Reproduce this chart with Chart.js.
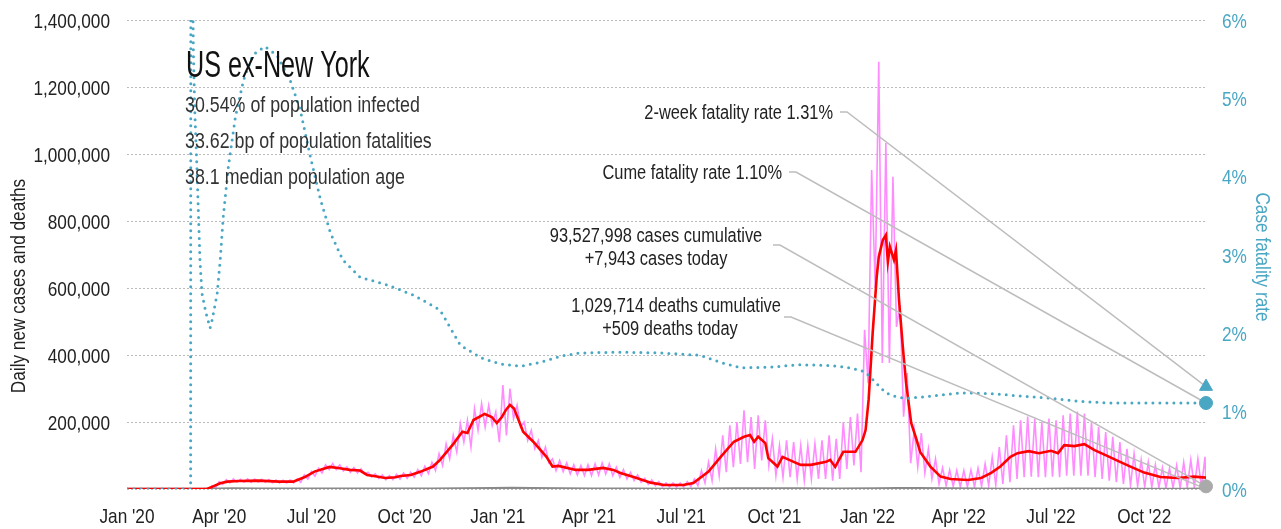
<!DOCTYPE html>
<html>
<head>
<meta charset="utf-8">
<script src="https://cdn.jsdelivr.net/npm/chart.js@4.4.1/dist/chart.umd.min.js"></script>
<style>
  html, body { margin: 0; padding: 0; background: #fff; }
  #wrap { width: 1281px; height: 529px; }
</style>
</head>
<body>
<div id="wrap"><canvas id="chart" width="1281" height="529"></canvas></div>
<script>
/* ===== DATA (x = days since 1 Jan 2020) ===== */
const tickDays = [0, 91, 182, 274, 366, 456, 547, 639, 731, 821, 912, 1004];
const tickLabels = ["Jan '20", "Apr '20", "Jul '20", "Oct '20", "Jan '21", "Apr '21",
  "Jul '21", "Oct '21", "Jan '22", "Apr '22", "Jul '22", "Oct '22"];
const lastDay = 1065;

// daily new cases (thousands): one weekly high and one weekly low, from day 70
const dailyStart = 70;
const dailyHigh = [0, 1, 10, 22, 28, 30, 29, 30, 30, 29, 28, 27, 26, 27, 30, 42, 52, 62, 72, 76,
  72, 66, 64, 60, 50, 45, 42, 40, 44, 48, 50, 58, 68, 80, 105, 135, 160, 195, 205, 240,
  255, 250, 230, 310, 300, 250, 200, 175, 145, 125, 90, 85, 78, 72, 70, 72, 75, 78, 75, 65,
  58, 50, 42, 32, 27, 22, 18, 18, 18, 22, 30, 55, 80, 120, 160, 190, 200, 235, 215, 220,
  205, 150, 130, 145, 140, 130, 130, 135, 145, 160, 150, 200, 215, 225, 475, 952, 1275, 1033, 932, 549,
  346, 176, 167, 120, 90, 63, 57, 55, 55, 57, 62, 75, 95, 125, 160, 190, 205, 216, 210, 200,
  210, 205, 220, 225, 231, 225, 200, 185, 170, 156, 140, 120, 105, 87, 80, 72, 63, 62, 70, 80,
  87, 90, 96];
const dailyLow = [0, 0, 4, 14, 18, 20, 20, 20, 21, 20, 19, 18, 18, 18, 20, 30, 38, 48, 58, 58,
  54, 50, 48, 44, 36, 32, 28, 28, 30, 32, 35, 40, 46, 55, 70, 90, 110, 140, 125, 175,
  185, 190, 140, 160, 210, 185, 145, 120, 95, 78, 55, 52, 45, 42, 40, 40, 42, 45, 40, 35,
  30, 25, 20, 14, 10, 7, 6, 6, 6, 7, 10, 18, 25, 40, 50, 65, 75, 80, 60, 85,
  70, 40, 35, 35, 30, 25, 30, 30, 30, 25, 30, 60, 70, 50, 316, 600, 376, 376, 484, 216,
  77, 66, 48, 30, 15, 10, 8, 6, 6, 6, 8, 10, 12, 15, 20, 30, 35, 37, 35, 35,
  37, 35, 40, 40, 40, 40, 35, 30, 25, 20, 15, 10, 8, 6, 5, 4, 3, 3, 3, 5,
  5, 5];

// 7-day average of new cases (thousands)
const avgDays = [0, 79, 85, 92, 99, 110, 130, 150, 164, 175, 185, 200, 210, 220, 230, 237, 245, 255, 265, 270,
  280, 290, 302, 309, 322, 331, 336, 342, 353, 360, 365, 370, 374, 378, 382, 391, 401, 414, 420, 426,
  443, 455, 470, 480, 487, 500, 517, 530, 549, 559, 574, 586, 599, 609, 615, 619, 623, 630, 633, 642,
  647, 658, 665, 675, 690, 694, 699, 707, 719, 726, 729, 732, 736, 740, 742, 746, 749, 751, 753, 757,
  759, 762, 766, 769, 774, 779, 783, 793, 803, 813, 830, 843, 853, 862, 872, 879, 890, 900, 912, 919,
  925, 935, 945, 955, 968, 978, 991, 1004, 1020, 1037, 1053, 1065];
const avgCases = [0, 0, 8, 17, 22, 24, 25, 22, 22, 35, 52, 66, 62, 57, 55, 42, 38, 33, 35, 39,
  42, 52, 67, 87, 134, 171, 167, 206, 224, 215, 197, 215, 236, 251, 240, 171, 141, 96, 67, 69,
  57, 57, 63, 57, 48, 36, 19, 12, 12, 18, 52, 96, 141, 156, 161, 141, 156, 137, 92, 67,
  96, 81, 72, 72, 81, 87, 66, 111, 111, 146, 176, 266, 466, 634, 693, 743, 758, 678, 723, 684,
  713, 564, 415, 316, 197, 150, 110, 67, 37, 30, 27, 33, 48, 67, 96, 107, 113, 107, 114, 107,
  131, 128, 134, 116, 98, 84, 66, 49, 36, 33, 37, 34];

// daily deaths
const deathDays = [0, 60, 75, 90, 105, 130, 160, 200, 220, 260, 300, 330, 360, 380, 400, 430, 460, 500,
  540, 570, 600, 630, 660, 700, 740, 760, 780, 810, 840, 870, 900, 930, 960, 1000, 1040, 1065];
const deathVals = [0, 0, 200, 900, 1300, 1100, 600, 800, 900, 700, 800, 1500, 2200, 2800, 2600, 1800, 1000, 600,
  250, 400, 1200, 1700, 1300, 1000, 1300, 2200, 2300, 1300, 500, 300, 300, 400, 400, 350, 300, 509];

// case fatality rate (%)
const cfrDays = [0, 62.8, 63.2, 64.5, 65.5, 67, 69, 72, 74, 78, 82, 84, 89, 92, 95, 100, 107, 115, 124, 136,
  148, 161, 171, 181, 191, 201, 213, 230, 257, 283, 309, 329, 349, 368, 388, 408, 428, 447, 487, 527,
  566, 586, 606, 635, 665, 694, 709, 724, 730, 739, 749, 759, 769, 788, 823, 853, 882, 912, 941, 971, 1065];
const cfrVals = [0, 0, 14, 7, 5.6, 4.8, 4.12, 2.93, 2.5, 2.25, 2.06, 2.16, 2.5, 2.93, 3.48, 4.12, 4.76, 5.23, 5.55, 5.66,
  5.55, 5.23, 4.85, 4.25, 3.7, 3.27, 2.93, 2.71, 2.61, 2.48, 2.29, 1.84, 1.68, 1.6, 1.57, 1.62, 1.7, 1.74, 1.75, 1.74,
  1.71, 1.62, 1.55, 1.56, 1.59, 1.58, 1.56, 1.52, 1.48, 1.36, 1.23, 1.18, 1.16, 1.18, 1.23, 1.22, 1.19, 1.16, 1.12, 1.1, 1.1];

const cfrTwoWeek = 1.31;
const cfrCume = 1.10;
const casesToday = 7943;
const deathsToday = 509;
const casesCumulative = 93527998;
const deathsCumulative = 1029714;
const statLines = ["30.54% of population infected", "33.62 bp of population fatalities", "38.1 median population age"];

/* ===== STYLE ===== */
const FONT = "'Liberation Sans', Arial, sans-serif";
const NARROW = 0.82; // horizontal squeeze to mimic a narrow face
const TEAL = "#4aa7c4";
const fmt = (n) => n.toLocaleString("en-US");

/* ===== BUILD SERIES ===== */
const dailyPoints = [{ x: 0, y: 0 }];
dailyHigh.forEach((v, i) => {
  dailyPoints.push({ x: dailyStart + 7 * i, y: v * 1000 });
  const lowDay = dailyStart + 7 * i + 3.5;
  if (i < dailyLow.length && lowDay < lastDay) dailyPoints.push({ x: lowDay, y: dailyLow[i] * 1000 });
});
dailyPoints.push({ x: lastDay, y: casesToday });

const avgPoints = avgDays.map((d, i) => ({ x: d, y: avgCases[i] * 1000 }));
const deathPoints = deathDays.map((d, i) => ({ x: d, y: deathVals[i] }));
const cfrPoints = cfrDays.map((d, i) => ({ x: d, y: cfrVals[i] }));

/* ===== TEXT HELPERS ===== */
function drawText(ctx, str, x, y, size, color, align, sx = NARROW, rot = 0) {
  ctx.save();
  ctx.font = size + "px " + FONT;
  ctx.fillStyle = color;
  ctx.textAlign = align;
  ctx.textBaseline = "alphabetic";
  ctx.translate(x, y);
  if (rot) ctx.rotate(rot);
  ctx.scale(sx, 1);
  ctx.fillText(str, 0, 0);
  ctx.restore();
}

function leader(ctx, x0, y0, x1, y1) {
  ctx.beginPath();
  ctx.moveTo(x0, y0);
  ctx.lineTo(x0 + 7, y0);
  ctx.lineTo(x1, y1);
  ctx.stroke();
}

const overlay = {
  id: "overlay",
  afterDatasetDraw(chart, args) {
    if (args.index !== 3) return; // after the CFR line, under the end markers
    const { ctx, scales } = chart;
    const ex = scales.x.getPixelForValue(lastDay);
    ctx.save();
    ctx.strokeStyle = "#bdbdbd";
    ctx.lineWidth = 1.5;
    leader(ctx, 840, 112, ex, scales.y1.getPixelForValue(cfrTwoWeek));
    leader(ctx, 789, 172, ex, scales.y1.getPixelForValue(cfrCume));
    leader(ctx, 773, 245, ex, scales.y.getPixelForValue(casesToday));
    leader(ctx, 784, 317, ex, scales.y.getPixelForValue(deathsToday));
    ctx.restore();
  },
  afterDraw(chart) {
    const { ctx, scales } = chart;

    // tick labels, placed by the chart's own scales
    const ys = scales.y, y1 = scales.y1, xs = scales.x;
    ys.ticks.forEach((t, i) => {
      if (t.value === 0) return;
      drawText(ctx, fmt(t.value), ys.right - 17, ys.getPixelForTick(i) + 8, 21, "#222", "right");
    });
    y1.ticks.forEach((t, i) => {
      drawText(ctx, t.value + "%", y1.left + 16, y1.getPixelForTick(i) + 8, 21, TEAL, "left");
    });
    xs.ticks.forEach((t, i) => {
      drawText(ctx, tickLabels[i], xs.getPixelForTick(i), xs.top + 34, 21, "#222", "center");
    });

    // axis titles
    drawText(ctx, "Daily new cases and deaths", 25, 286, 21, "#222", "center", NARROW, -Math.PI / 2);
    drawText(ctx, "Case fatality rate", 1256, 257, 21, TEAL, "center", NARROW, Math.PI / 2);

    // headline block
    drawText(ctx, "US ex-New York", 186, 77, 37, "#111", "left", 0.68);
    statLines.forEach((s, i) => drawText(ctx, s, 185, 112 + 36 * i, 22, "#333", "left", 0.81));

    // end-of-series annotations
    drawText(ctx, "2-week fatality rate " + cfrTwoWeek.toFixed(2) + "%", 833, 119, 20, "#222", "right");
    drawText(ctx, "Cume fatality rate " + cfrCume.toFixed(2) + "%", 782, 179, 20, "#222", "right");
    drawText(ctx, fmt(casesCumulative) + " cases cumulative", 656, 242, 20, "#222", "center");
    drawText(ctx, "+" + fmt(casesToday) + " cases today", 656, 265, 20, "#222", "center");
    drawText(ctx, fmt(deathsCumulative) + " deaths cumulative", 676, 312, 20, "#222", "center");
    drawText(ctx, "+" + fmt(deathsToday) + " deaths today", 670, 335, 20, "#222", "center");
  }
};

/* ===== CHART ===== */
new Chart(document.getElementById("chart"), {
  type: "line",
  data: {
    datasets: [
      {
        label: "Daily new cases",
        data: dailyPoints,
        borderColor: "#ff8cff",
        borderWidth: 1.6,
        pointRadius: 0,
        yAxisID: "y",
        order: 7,
      },
      {
        label: "Daily deaths",
        data: deathPoints,
        borderColor: "#8a8a8a",
        borderWidth: 2.5,
        pointRadius: 0,
        yAxisID: "y",
        order: 6,
      },
      {
        label: "7-day average",
        data: avgPoints,
        borderColor: "#ff0000",
        borderWidth: 2.6,
        pointRadius: 0,
        yAxisID: "y",
        order: 5,
      },
      {
        label: "Case fatality rate",
        data: cfrPoints,
        borderColor: TEAL,
        borderWidth: 3,
        borderDash: [0, 7],
        borderCapStyle: "round",
        pointRadius: 0,
        yAxisID: "y1",
        order: 4,
      },
      {
        label: "2-week fatality rate",
        data: [{ x: lastDay, y: cfrTwoWeek }],
        showLine: false,
        clip: false,
        pointStyle: "triangle",
        pointRadius: 7.5,
        backgroundColor: TEAL,
        borderColor: TEAL,
        yAxisID: "y1",
        order: 3,
      },
      {
        label: "Cume fatality rate",
        data: [{ x: lastDay, y: cfrCume }],
        showLine: false,
        clip: false,
        pointRadius: 6.5,
        backgroundColor: TEAL,
        borderColor: TEAL,
        yAxisID: "y1",
        order: 2,
      },
      {
        label: "Cases today",
        data: [{ x: lastDay, y: casesToday }],
        showLine: false,
        clip: false,
        pointRadius: 6.5,
        backgroundColor: "#aaaaaa",
        borderColor: "#aaaaaa",
        yAxisID: "y",
        order: 1,
      },
    ],
  },
  options: {
    responsive: false,
    animation: false,
    devicePixelRatio: 1,
    layout: { padding: { top: 20, left: 0, right: 0, bottom: 0 } },
    plugins: { legend: { display: false }, tooltip: { enabled: false } },
    scales: {
      x: {
        type: "linear",
        min: 0,
        max: lastDay,
        grid: { display: false },
        border: { display: false },
        afterBuildTicks: (s) => { s.ticks = tickDays.map((v) => ({ value: v })); },
        afterFit: (s) => { s.height = 40; },
        ticks: { display: false, autoSkip: false },
      },
      y: {
        position: "left",
        min: 0,
        max: 1400000,
        afterFit: (s) => { s.width = 127; },
        grid: { color: "#bbbbbb", lineWidth: 1, drawTicks: false },
        border: { display: false, dash: [2, 2] },
        ticks: { display: false, stepSize: 200000 },
      },
      y1: {
        position: "right",
        min: 0,
        max: 6,
        afterFit: (s) => { s.width = 75; },
        grid: { display: false, drawTicks: false },
        border: { display: false },
        ticks: { display: false, stepSize: 1 },
      },
    },
  },
  plugins: [overlay],
});
</script>
</body>
</html>
